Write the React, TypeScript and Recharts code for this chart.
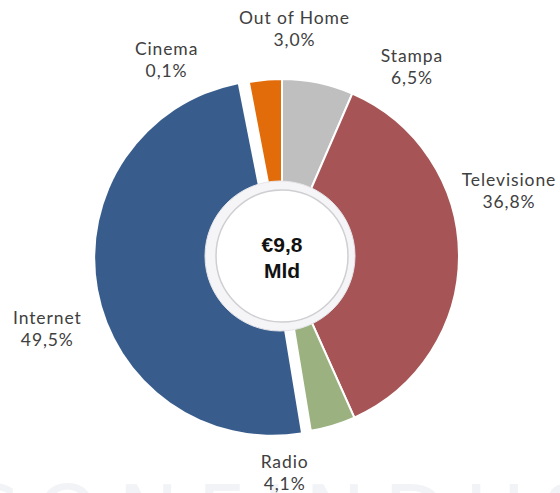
import { PieChart, Pie, Cell } from "recharts"

const categories = ["Stampa", "Televisione", "Radio", "Internet", "Cinema", "Out of Home"]
const shares = [6.5, 36.8, 4.1, 49.5, 0.1, 3.0]
const COLORS = ["#bfbfbf", "#a65455", "#9bb280", "#385d8c", "#7f63a0", "#e36c0a"]
const totalLabel = ["€9,8", "Mld"]

const data = categories.map((name, i) => ({ name, value: shares[i] }))

const CX = 282
const CY = 256
const R = 177
const RAD = Math.PI / 180

// exploded slice (Internet) pulled out along its own mid angle
const EXPLODE = "Internet"
const EXPLODE_DIST = 10
const explodeIdx = categories.indexOf(EXPLODE)
const before = shares.slice(0, explodeIdx).reduce((a, b) => a + b, 0)
const explodeMid = 90 - 3.6 * (before + shares[explodeIdx] / 2)
const ex = CX + EXPLODE_DIST * Math.cos(explodeMid * RAD)
const ey = CY - EXPLODE_DIST * Math.sin(explodeMid * RAD)

// label nudges (excel "best fit" placement)
const NUDGE: Record<string, [number, number]> = {
  Stampa: [88, 14],
  Televisione: [20, -64],
  Radio: [-57, 19],
  Internet: [-31, 36],
  Cinema: [-76, 7],
  "Out of Home": [32, -21],
}

const fmt = (v: number) => v.toFixed(1).replace(".", ",") + "%"

const renderLabel = (props: any) => {
  const { cx, cy, midAngle, name, value } = props
  const r = R + 30
  const n = NUDGE[name] || [0, 0]
  const x = cx + r * Math.cos(-midAngle * RAD) + n[0]
  const y = cy + r * Math.sin(-midAngle * RAD) + n[1]
  return (
    <text
      x={x}
      y={y}
      textAnchor="middle"
      fill="#404040"
      fontSize={17.5}
      letterSpacing={0.9}
      fontFamily="Lato, 'Noto Sans', sans-serif"
    >
      <tspan x={x} dy={-5}>{name}</tspan>
      <tspan x={x} dy={22}>{fmt(value)}</tspan>
    </text>
  )
}

export default function App() {
  return (
    <div style={{ position: "absolute", left: 0, top: 0, width: 560, height: 493, background: "#fff", overflow: "hidden" }}>
      <svg width={560} height={493} style={{ position: "absolute", left: 0, top: 0 }}>
        <text x={-40} y={544} fontSize={82} fill="#f2f3f6" fontFamily="'DejaVu Sans', sans-serif" letterSpacing={18}>
          CONFINDUSTRIA
        </text>
      </svg>
      <div style={{ position: "absolute", left: 0, top: 0 }}>
        <PieChart width={560} height={493} margin={{ top: 0, right: 0, bottom: 0, left: 0 }}>
          <Pie
            data={data}
            dataKey="value"
            nameKey="name"
            cx={CX}
            cy={CY}
            outerRadius={R}
            startAngle={90}
            endAngle={-270}
            stroke="#fff"
            strokeWidth={2}
            label={renderLabel}
            labelLine={false}
            isAnimationActive={false}
          >
            {data.map((d, i) => (
              <Cell
                key={`a-${i}`}
                fill={d.name === EXPLODE ? "transparent" : COLORS[i]}
                stroke={d.name === EXPLODE ? "none" : "#fff"}
              />
            ))}
          </Pie>
          <Pie
            data={data}
            dataKey="value"
            nameKey="name"
            cx={ex}
            cy={ey}
            outerRadius={R}
            startAngle={90}
            endAngle={-270}
            label={false}
            labelLine={false}
            isAnimationActive={false}
          >
            {data.map((d, i) => (
              <Cell
                key={`b-${i}`}
                fill={d.name === EXPLODE ? COLORS[i] : "transparent"}
                stroke="none"
              />
            ))}
          </Pie>
        </PieChart>
      </div>
      <svg width={560} height={493} style={{ position: "absolute", left: 0, top: 0, pointerEvents: "none" }}>
        <circle cx={CX - 2} cy={CY} r={75} fill="#f5f5f7" stroke="#e6e6ea" strokeWidth={1} />
        <circle cx={CX} cy={CY} r={66} fill="#fff" stroke="#cfcfd3" strokeWidth={1.5} />
        <text
          x={CX}
          textAnchor="middle"
          fontFamily="'Liberation Sans', Arial, sans-serif"
          fontWeight="bold"
          fontSize={21}
          fill="#111"
        >
          <tspan x={CX} y={252}>{totalLabel[0]}</tspan>
          <tspan x={CX} y={278}>{totalLabel[1]}</tspan>
        </text>
      </svg>
    </div>
  )
}
